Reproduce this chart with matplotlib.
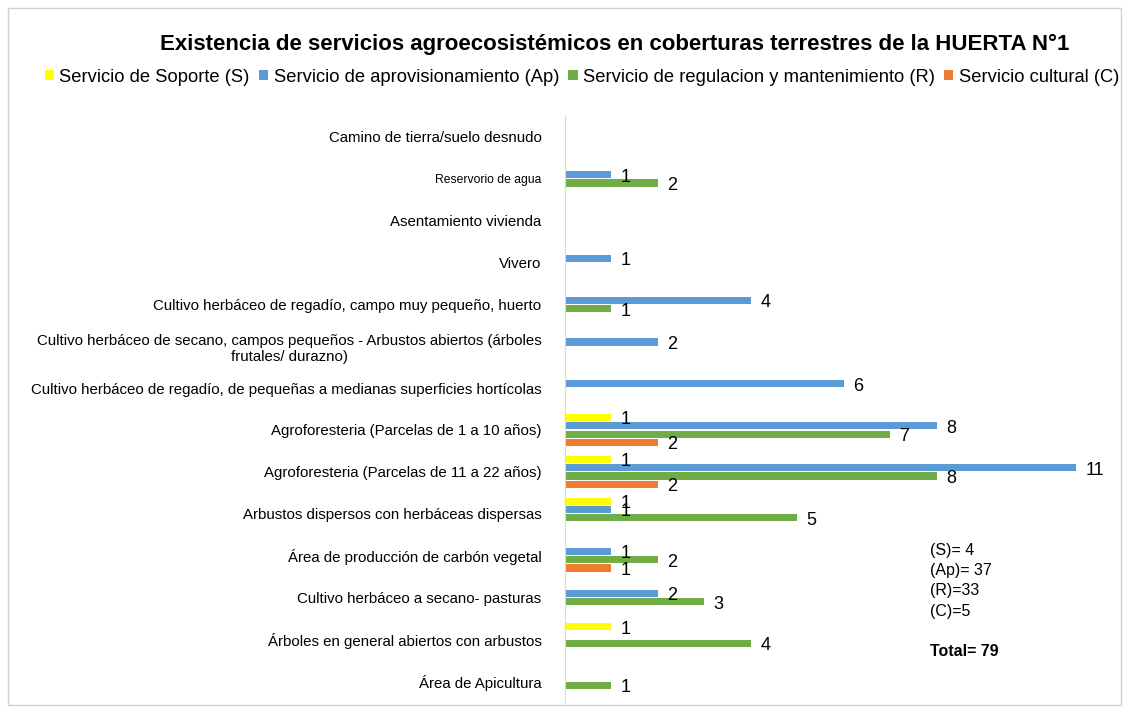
import numpy as np
import matplotlib.pyplot as plt
from matplotlib.patches import Rectangle

plt.rcParams['font.family'] = ['Liberation Sans', 'DejaVu Sans']

categorias = [
    "Camino de tierra/suelo desnudo",
    "Reservorio de agua",
    "Asentamiento vivienda",
    "Vivero",
    "Cultivo herbáceo de regadío, campo muy pequeño, huerto",
    "Cultivo herbáceo de secano, campos pequeños - Arbustos abiertos (árboles\nfrutales/ durazno)",
    "Cultivo herbáceo de regadío, de pequeñas a medianas superficies hortícolas",
    "Agroforesteria (Parcelas de 1 a 10 años)",
    "Agroforesteria (Parcelas de 11 a 22 años)",
    "Arbustos dispersos con herbáceas dispersas",
    "Área de producción de carbón vegetal",
    "Cultivo herbáceo a secano- pasturas",
    "Árboles en general abiertos con arbustos",
    "Área de Apicultura",
]

soporte = [0, 0, 0, 0, 0, 0, 0, 1, 1, 1, 0, 0, 1, 0]
aprovisionamiento = [0, 1, 0, 1, 4, 2, 6, 8, 11, 1, 1, 2, 0, 0]
regulacion = [0, 2, 0, 0, 1, 0, 0, 7, 8, 5, 2, 3, 4, 1]
cultural = [0, 0, 0, 0, 0, 0, 0, 2, 2, 0, 1, 0, 0, 0]

series = [
    ("Servicio de Soporte (S)", soporte, "#FFFF00"),
    ("Servicio de aprovisionamiento (Ap)", aprovisionamiento, "#5B9BD5"),
    ("Servicio de regulacion y mantenimiento (R)", regulacion, "#70AD47"),
    ("Servicio cultural (C)", cultural, "#ED7D31"),
]

resumen = ["(S)= 4", "(Ap)= 37", "(R)=33", "(C)=5"]
total = "Total= 79"

fig = plt.figure(figsize=(11.29, 7.09), dpi=100)
W, H = 1129, 709
ax = fig.add_axes([565 / W, 1 - 702 / H, (1118 - 565) / W, (702 - 116) / H])

y = np.arange(len(categorias))
paso = 0.2
alto = 0.17
for k, (nombre, vals, color) in enumerate(series):
    pos = y + (k - 1.5) * paso
    ax.barh(pos, vals, height=alto, color=color, label=nombre)
    for p, v in zip(pos, vals):
        if v > 0:
            ax.text(v + 0.2, p + 0.06, str(v), va="center", ha="left", fontsize=13)

ax.set_xlim(0, 11.9)
ax.set_ylim(len(categorias) - 0.5, -0.5)
ax.set_xticks([])
ax.set_yticks(y)
ax.set_yticklabels(categorias, fontsize=10.8, multialignment="center")
ax.get_yticklabels()[1].set_fontsize(8.7)
ax.tick_params(axis="y", length=0, pad=17)
for s in ["top", "right", "bottom"]:
    ax.spines[s].set_visible(False)
ax.spines["left"].set_color("#D9D9D9")

fig.text(615 / W, 1 - 44 / H, "Existencia de servicios agroecosistémicos en coberturas terrestres de la HUERTA N°1",
         ha="center", va="center", fontsize=16, fontweight="bold")

fig.legend(loc="center", bbox_to_anchor=(582 / W, 1 - 77 / H), ncol=4, frameon=False,
           fontsize=13.2, handlelength=0.5, handleheight=0.5, handletextpad=0.3,
           columnspacing=0.5, borderaxespad=0)

for i, t in enumerate(resumen):
    fig.text(930 / W, 1 - (550 + i * 20.5) / H, t, ha="left", va="center", fontsize=11.5)
fig.text(930 / W, 1 - 652 / H, total, ha="left", va="center", fontsize=11.5, fontweight="bold")

fig.patches.append(Rectangle((8 / W, 4 / H), (1121 - 8) / W, (701 - 4) / H,
                             transform=fig.transFigure, fill=False, edgecolor="#D0D0D0", lw=1))

fig.savefig("out.png", dpi=100, facecolor="white")
